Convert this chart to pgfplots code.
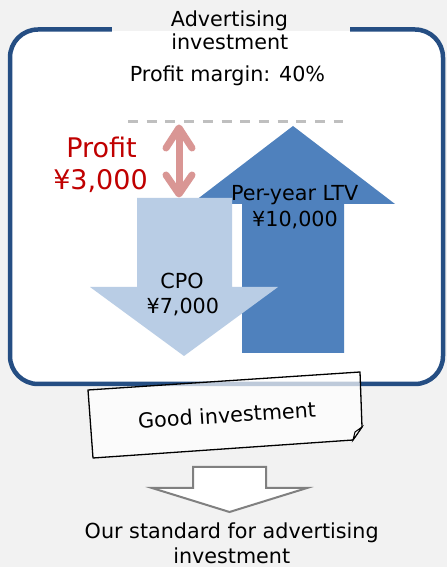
\documentclass[border=0pt]{standalone}
\usepackage{pgfplots}
\pgfplotsset{compat=1.18}
\usepackage{fontspec}
\setmainfont{DejaVu Sans}
\definecolor{bg}{HTML}{F2F2F2}
\definecolor{boxblue}{HTML}{254E83}
\definecolor{darkarrow}{HTML}{4F81BD}
\definecolor{lightarrow}{HTML}{B9CDE5}
\definecolor{redtext}{HTML}{C00000}
\definecolor{redarrow}{HTML}{D99694}
\definecolor{dashgray}{HTML}{BFBFBF}
\definecolor{hollowgray}{HTML}{808080}
\tikzset{t/.style={inner sep=0pt, font=\fontsize{20.7}{24}\selectfont},
         r/.style={inner sep=0pt, text=redtext, font=\fontsize{27}{32}\selectfont}}
\begin{document}
\begin{tikzpicture}
\begin{axis}[
  scale only axis, width=447pt, height=567pt,
  xmin=0, xmax=447, ymin=0, ymax=567,
  hide axis, clip=false,
]
% background
\addplot[draw=none, fill=bg] coordinates {(0,0) (447,0) (447,567) (0,567)} --cycle;
% rounded box
\addplot[draw=boxblue, line width=4.5pt, fill=white, rounded corners=28pt] coordinates {(10,537.5) (443,537.5) (443,183) (10,183)} --cycle;
% gap in top border
\addplot[draw=none, fill=bg] coordinates {(111.5,536.3) (349.5,536.3) (349.5,542) (111.5,542)} --cycle;
\addplot[draw=none, fill=white] coordinates {(111.5,533) (349.5,533) (349.5,536.3) (111.5,536.3)} --cycle;
% dashed line
\addplot[dashgray, line width=3pt, dash pattern=on 10pt off 8.7pt] coordinates {(128,445) (343,445)};
% dark up arrow (Per-year LTV)
\addplot[draw=none, fill=darkarrow] coordinates {(242,214) (344,214) (344,363) (395,363) (293,441) (191,363) (242,363)} --cycle;
% light down arrow (CPO)
\addplot[draw=none, fill=lightarrow] coordinates {(137,369) (232,369) (232,280) (278,280) (184,211) (90,280) (137,280)} --cycle;
% red double arrow (profit)
\addplot[redarrow, line width=7pt, line cap=round] coordinates {(179,436) (179,375)};
\addplot[redarrow, line width=7pt, line cap=round, line join=round] coordinates {(166,419) (179,439) (192,419)};
\addplot[redarrow, line width=7pt, line cap=round, line join=round] coordinates {(166,392) (179,373) (192,392)};
% note shape
\addplot[draw=black, line width=1.3pt, fill=white, fill opacity=0.7, line join=round] coordinates {(88,177) (360,195) (362,140) (353,127) (93,109)} --cycle;
\addplot[draw=black, line width=1pt, fill=white] coordinates {(362,140) (353,127) (355,135)} --cycle;
% hollow arrow
\addplot[draw=hollowgray, line width=2pt, fill=white] coordinates {(193,100) (266,100) (266,79) (307,79) (229.5,55) (152,79) (193,79)} --cycle;
% texts
\node[t, anchor=base] at (axis cs:229.5,540.3) {Advertising};
\node[t, anchor=base] at (axis cs:229.8,517.7) {investment};
\node[t, anchor=base] at (axis cs:227.5,485.3) {Profit margin: 40\%};
\node[r, anchor=base] at (axis cs:101.5,409.3) {Profit};
\node[r, anchor=base] at (axis cs:100.5,377.7) {¥3,000};
\node[t, anchor=base] at (axis cs:294.7,366.3) {Per-year LTV};
\node[t, anchor=base] at (axis cs:295,340.3) {¥10,000};
\node[t, anchor=base] at (axis cs:182,278) {CPO};
\node[t, anchor=base] at (axis cs:182.8,253.7) {¥7,000};
\node[t, anchor=center, rotate=3.8] at (axis cs:227,152) {Good investment};
\node[t, anchor=base] at (axis cs:231.7,28.7) {Our standard for advertising};
\node[t, anchor=base] at (axis cs:231.7,3.5) {investment};
\end{axis}
\end{tikzpicture}
\end{document}
